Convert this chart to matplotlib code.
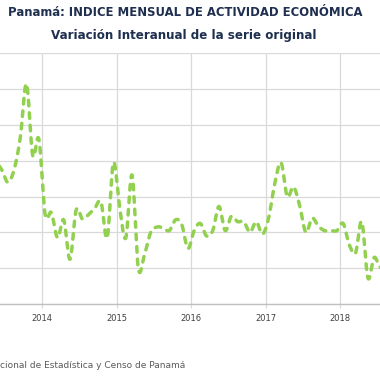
import numpy as np
import matplotlib
matplotlib.use("Agg")
import matplotlib.pyplot as plt

# ---- data (monthly interannual variation, %) ----
start_year = 2013
start_month = 4
values = [8.6, 8.0, 7.5, 6.8, 7.5, 9.3, 12.3, 8.3, 9.2,
          5.0, 5.1, 3.7, 4.7, 2.5, 5.25, 4.75, 5.0, 5.35, 5.7, 3.7, 7.9,
          5.4, 3.7, 7.2, 2.0, 2.75, 4.0, 4.3, 4.25, 4.1, 4.7, 4.45, 3.1,
          4.1, 4.5, 3.8, 4.1, 5.45, 4.1, 4.9, 4.6, 4.6, 4.0, 4.6, 3.9,
          4.8, 6.75, 7.9, 6.0, 6.55, 5.5, 4.0, 4.8, 4.35, 4.1, 4.1, 4.1,
          4.5, 3.3, 2.85, 4.6, 1.45, 2.6, 2.05, 2.5]
year_ticks = [2014, 2015, 2016, 2017, 2018]
year_labels = ["2014", "2015", "2016", "2017", "2018"]
y_ticks = [0, 2, 4, 6, 8, 10, 12, 14]

title = "Panamá: INDICE MENSUAL DE ACTIVIDAD ECONÓMICA"
subtitle = "Variación Interanual de la serie original"
source = "cional de Estadística y Censo de Panamá"

# x position of each month (mid-month, fractional year)
n = len(values)
xs = np.array([start_year + (start_month - 1 + i + 0.5) / 12.0 for i in range(n)])
ys = np.array(values, dtype=float)

# Excel-like smoothed line (Bezier through the data points)
def smooth(x, y, steps=20):
    px, py = [], []
    xe = np.concatenate([[2 * x[0] - x[1]], x, [2 * x[-1] - x[-2]]])
    ye = np.concatenate([[y[0]], y, [y[-1]]])
    for i in range(1, len(x)):
        p0x, p1x, p2x, p3x = xe[i - 1], xe[i], xe[i + 1], xe[i + 2]
        p0y, p1y, p2y, p3y = ye[i - 1], ye[i], ye[i + 1], ye[i + 2]
        c1x, c1y = p1x + (p2x - p0x) / 6, p1y + (p2y - p0y) / 6
        c2x, c2y = p2x - (p3x - p1x) / 6, p2y - (p3y - p1y) / 6
        t = np.linspace(0, 1, steps, endpoint=False)
        bx = (1 - t) ** 3 * p1x + 3 * (1 - t) ** 2 * t * c1x + 3 * (1 - t) * t ** 2 * c2x + t ** 3 * p2x
        by = (1 - t) ** 3 * p1y + 3 * (1 - t) ** 2 * t * c1y + 3 * (1 - t) * t ** 2 * c2y + t ** 3 * p2y
        px.append(bx)
        py.append(by)
    px.append([x[-1]])
    py.append([y[-1]])
    return np.concatenate(px), np.concatenate(py)

sx, sy = smooth(xs, ys)

W = H = 380
fig = plt.figure(figsize=(3.8, 3.8), dpi=100)
fig.patch.set_facecolor("white")

# axes placement (the chart is cropped on the left and right)
x0, x1 = 2012.75, 2018.6
px_per_year = 74.5
year_at_px0 = 2013.436
left_px = (x0 - year_at_px0) * px_per_year
right_px = (x1 - year_at_px0) * px_per_year
bottom_px, top_px = 304, 53.4
ax = fig.add_axes([left_px / W, (H - bottom_px) / H,
                   (right_px - left_px) / W, (bottom_px - top_px) / H])

ax.plot(sx, sy, color="#92d050", lw=2.5, linestyle=(0, (1.6, 2.0)),
        dash_capstyle="round", solid_capstyle="round", zorder=3)

ax.set_xlim(x0, x1)
ax.set_ylim(y_ticks[0], y_ticks[-1])
ax.set_yticks(y_ticks)
ax.set_xticks(year_ticks)
ax.set_xticklabels(year_labels)
ax.axvline(2013, color="#d9d9d9", lw=0.9, zorder=0)
ax.tick_params(axis="y", left=False, labelleft=False)
ax.tick_params(axis="x", length=3, color="#d9d9d9", labelsize=6,
               labelcolor="#404040", pad=4)
ax.grid(True, color="#d9d9d9", lw=0.9)
ax.set_axisbelow(True)
for s in ["top", "right", "left"]:
    ax.spines[s].set_visible(False)
ax.spines["bottom"].set_color("#bfbfbf")
ax.spines["bottom"].set_linewidth(1.0)

tcol = "#1f2f4f"
fig.text(185 / W, 1 - 12.5 / H, title, ha="center", va="center",
         fontsize=8.35, fontweight="bold", color=tcol, family="DejaVu Sans")
fig.text(184 / W, 1 - 35 / H, subtitle, ha="center", va="center",
         fontsize=8.6, fontweight="bold", color=tcol, family="DejaVu Sans")
fig.text(0.5 / W, 1 - 366 / H, source, ha="left", va="center",
         fontsize=6.5, color="#595959", family="DejaVu Sans")

fig.savefig("out.png", dpi=100, facecolor="white")
